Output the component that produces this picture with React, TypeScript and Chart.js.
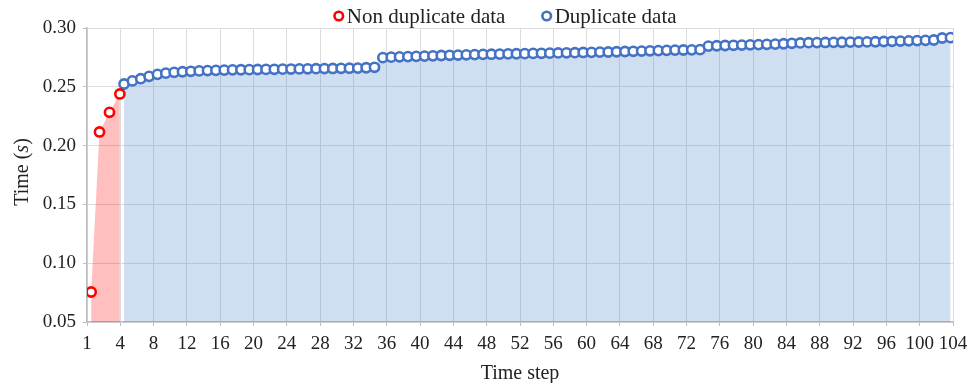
import { useEffect, useRef } from "react";
import { Chart, registerables } from "chart.js";

Chart.register(...registerables);

// ---- data ----
const redSteps = [0.5, 1.5, 2.7, 3.95];
const redTimes = [0.0755, 0.2116, 0.2283, 0.2439];

const blueTimes = [
  0.2524, 0.255, 0.2569, 0.2589, 0.2606, 0.2616, 0.2623, 0.2628, 0.2632, 0.2635,
  0.2638, 0.264, 0.2642, 0.2644, 0.2645, 0.2646, 0.2647, 0.2648, 0.2649, 0.265,
  0.2651, 0.2652, 0.2653, 0.2654, 0.2655, 0.2656, 0.2657, 0.2658, 0.2659, 0.2662,
  0.2666,
  0.2748, 0.2752, 0.2755, 0.2757, 0.2759, 0.2761, 0.2763, 0.2766, 0.2768, 0.277,
  0.2772, 0.2774, 0.2776, 0.2777, 0.2778, 0.278, 0.2781, 0.2782, 0.2784, 0.2785,
  0.2786, 0.2788, 0.2789, 0.279, 0.2792, 0.2793, 0.2795, 0.2796, 0.2798, 0.28,
  0.2802, 0.2804, 0.2806, 0.2808, 0.281, 0.2812, 0.2813, 0.2814, 0.2816,
  0.2846, 0.2849, 0.2851, 0.2853, 0.2855, 0.2857, 0.2859, 0.2861, 0.2863, 0.2866,
  0.287, 0.2873, 0.2875, 0.2876, 0.2877, 0.2878, 0.2879, 0.288, 0.2881, 0.2882,
  0.2883, 0.2885, 0.2887, 0.2889, 0.2891, 0.2893, 0.2895, 0.2898, 0.2915, 0.2918,
];
const blueFirstStep = 4.45;
const blueLastStep = 103.7;

const xTickValues = [0, 4, 8, 12, 16, 20, 24, 28, 32, 36, 40, 44, 48, 52, 56, 60, 64, 68, 72, 76, 80, 84, 88, 92, 96, 100, 104];
const xTickLabels = ["1", "4", "8", "12", "16", "20", "24", "28", "32", "36", "40", "44", "48", "52", "56", "60", "64", "68", "72", "76", "80", "84", "88", "92", "96", "100", "104"];
const yTickValues = [0.05, 0.1, 0.15, 0.2, 0.25, 0.3];

const seriesNames = ["Non duplicate data", "Duplicate data"];
const seriesColors = ["#ff0000", "#4472c4"];
const xTitle = "Time step";
const yTitleParts = ["Time (", "s", ")"];

const FONT = "'Liberation Serif', 'Times New Roman', serif";
const TEXT = "#222";
const GRID = "#dcdcdc";
const AXIS = "#bdbdbd";

export default function App() {
  const ref = useRef<HTMLCanvasElement | null>(null);

  useEffect(() => {
    document.body.style.margin = "0";
    const canvas = ref.current;
    if (!canvas) return;

    const blueSteps = blueTimes.map(
      (_, i) => blueFirstStep + (i * (blueLastStep - blueFirstStep)) / (blueTimes.length - 1)
    );

    const yTitlePlugin = {
      id: "yTitle",
      afterDraw(chart: any) {
        const { ctx, chartArea } = chart;
        ctx.save();
        ctx.fillStyle = TEXT;
        ctx.textBaseline = "middle";
        ctx.textAlign = "left";
        const normal = `20px ${FONT}`;
        const italic = `italic 20px ${FONT}`;
        const fonts = [normal, italic, normal];
        const widths = yTitleParts.map((t, i) => {
          ctx.font = fonts[i];
          return ctx.measureText(t).width;
        });
        const total = widths.reduce((a, b) => a + b, 0);
        ctx.translate(23, (chartArea.top + chartArea.bottom) / 2 - 3);
        ctx.rotate(-Math.PI / 2);
        let x = -total / 2;
        yTitleParts.forEach((t, i) => {
          ctx.font = fonts[i];
          ctx.fillText(t, x, 0);
          x += widths[i];
        });
        ctx.restore();
      },
    };

    const legendPlugin = {
      id: "customLegend",
      afterDraw(chart: any) {
        const { ctx } = chart;
        ctx.save();
        ctx.font = `21px ${FONT}`;
        ctx.textBaseline = "middle";
        ctx.textAlign = "left";
        const r = 4.3;
        const gapText = 8;
        const gapItems = 36;
        const widths = seriesNames.map((t) => ctx.measureText(t).width);
        const itemW = widths.map((w) => r + 1 + gapText + w);
        const total = itemW[0] + itemW[1] + gapItems;
        let x = 505 - total / 2;
        const y = 16;
        seriesNames.forEach((t, i) => {
          ctx.beginPath();
          ctx.arc(x + r + 1, y, r, 0, Math.PI * 2);
          ctx.fillStyle = "#fff";
          ctx.fill();
          ctx.lineWidth = 2.6;
          ctx.strokeStyle = seriesColors[i];
          ctx.stroke();
          ctx.fillStyle = TEXT;
          ctx.fillText(t, x + r + 1 + gapText, y + 1);
          x += itemW[i] + gapItems;
        });
        ctx.restore();
      },
    };

    const chart = new Chart(canvas, {
      type: "line",
      data: {
        datasets: [
          {
            label: seriesNames[0],
            data: redSteps.map((x, i) => ({ x, y: redTimes[i] })),
            borderWidth: 0,
            borderColor: "rgba(0,0,0,0)",
            backgroundColor: "rgba(255,0,0,0.25)",
            fill: "start",
            pointRadius: 4.6,
            pointBorderWidth: 2.6,
            pointBorderColor: seriesColors[0],
            pointBackgroundColor: "#ffffff",
            tension: 0,
          },
          {
            label: seriesNames[1],
            data: blueSteps.map((x, i) => ({ x, y: blueTimes[i] })),
            borderWidth: 0,
            borderColor: "rgba(0,0,0,0)",
            backgroundColor: "rgba(68,128,200,0.26)",
            fill: "start",
            pointRadius: 4.6,
            pointBorderWidth: 2.6,
            pointBorderColor: seriesColors[1],
            pointBackgroundColor: "#ffffff",
            tension: 0,
          },
        ],
      },
      options: {
        responsive: false,
        animation: false,
        layout: { padding: { top: 28, right: 24, left: 0, bottom: 0 } },
        plugins: {
          legend: { display: false },
          tooltip: { enabled: false },
        },
        scales: {
          x: {
            type: "linear",
            min: 0,
            max: 104,
            afterBuildTicks: (scale: any) => {
              scale.ticks = xTickValues.map((v) => ({ value: v }));
            },
            afterFit: (scale: any) => {
              scale.height = 61;
            },
            ticks: {
              autoSkip: false,
              maxRotation: 0,
              minRotation: 0,
              padding: 7,
              color: TEXT,
              font: { family: FONT, size: 19 },
              callback: (v: any) => {
                const idx = xTickValues.indexOf(Number(v));
                return idx >= 0 ? xTickLabels[idx] : "";
              },
            },
            grid: { color: GRID, lineWidth: 1, tickLength: 4, tickColor: AXIS },
            border: { color: AXIS, width: 1.5 },
            title: {
              display: true,
              text: xTitle,
              color: TEXT,
              font: { family: FONT, size: 20 },
              padding: { top: 5, bottom: -3 },
            },
          },
          y: {
            type: "linear",
            min: 0.05,
            max: 0.3,
            afterBuildTicks: (scale: any) => {
              scale.ticks = yTickValues.map((v) => ({ value: v }));
            },
            afterFit: (scale: any) => {
              scale.width = 87;
            },
            ticks: {
              padding: 7,
              color: TEXT,
              font: { family: FONT, size: 19 },
              callback: (v: any) => Number(v).toFixed(2),
            },
            grid: { color: GRID, lineWidth: 1, tickLength: 4, tickColor: AXIS },
            border: { color: AXIS, width: 1.5 },
          },
        },
      },
      plugins: [yTitlePlugin, legendPlugin],
    });

    return () => chart.destroy();
  }, []);

  return (
    <div style={{ width: 977, height: 383 }}>
      <canvas ref={ref} width={977} height={383} style={{ display: "block" }} />
    </div>
  );
}
